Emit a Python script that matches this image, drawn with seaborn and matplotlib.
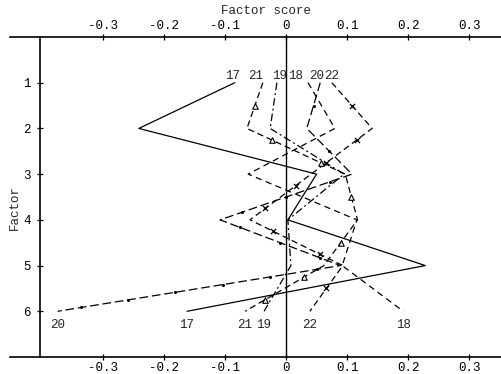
import numpy as np
import pandas as pd
import matplotlib
matplotlib.use("Agg")
import matplotlib.pyplot as plt
import seaborn as sns

# ------------------------------------------------
# DATA (factor scores)
# ------------------------------------------------

factors = [1, 2, 3, 4, 5, 6]

score_17 = [-0.084, -0.241, 0.050, 0.003, 0.228, -0.162]
score_18 = [0.036, 0.080, -0.062, 0.116, 0.092, 0.192]
score_19 = [-0.015, -0.026, 0.095, 0.003, 0.008, -0.036]
score_20 = [0.056, 0.034, 0.108, -0.108, 0.089, -0.374]
score_21 = [-0.038, -0.064, 0.097, 0.117, 0.062, -0.067]
score_22 = [0.075, 0.141, 0.041, -0.059, 0.093, 0.039]

series_names = ["17", "18", "19", "20", "21", "22"]
x_ticks = [-0.3, -0.2, -0.1, 0, 0.1, 0.2, 0.3]
x_tick_labels = ["-0.3", "-0.2", "-0.1", "0", "0.1", "0.2", "0.3"]

# label row above factor 1 (x positions of the printed numbers)
top_label_x = {"17": -0.087, "21": -0.049, "19": -0.010,
               "18": 0.015, "20": 0.050, "22": 0.074}

# ------------------------------------------------
# STYLE
# ------------------------------------------------

sns.set_style("white")
plt.rcParams["font.family"] = ["Liberation Mono", "DejaVu Sans Mono"]
plt.rcParams["font.size"] = 9

line_styles = {
    "17": "-",
    "18": (0, (5, 3.5)),
    "19": (0, (6, 2.5, 1.5, 2.5)),
    "20": (0, (7, 3)),
    "21": (0, (5, 3)),
    "22": (0, (5, 3)),
}

# symbols that the old plotter printed along some of the lines
symbol_styles = {
    "20": dict(marker="o", s=5, color="black", linewidth=0),
    "21": dict(marker="^", s=16, facecolor="white", edgecolor="black",
               linewidth=0.8),
    "22": dict(marker="x", s=14, color="black", linewidth=0.9),
}
SYMBOL_GAP_PX = 45

scores = {"17": score_17, "18": score_18, "19": score_19,
          "20": score_20, "21": score_21, "22": score_22}


def symbols_along(ax, xs, ys):
    # spread the symbols along each segment, about SYMBOL_GAP_PX apart
    pts = ax.transData.transform(np.column_stack([xs, ys]))
    out = []
    for a, b in zip(pts[:-1], pts[1:]):
        n = max(1, int(round(np.hypot(*(b - a)) / SYMBOL_GAP_PX)))
        for k in range(n):
            out.append(a + (b - a) * (k + 0.5) / n)
    return ax.transData.inverted().transform(np.array(out))


# ------------------------------------------------
# PLOT
# ------------------------------------------------

fig = plt.figure(figsize=(5.01, 3.74), dpi=100)
ax = fig.add_axes([10 / 501, 17 / 374, 491 / 501, 320 / 374])

ax.set_xlim(-0.452, 0.352)
ax.set_ylim(7.0, 0.0)

for name in series_names:
    df = pd.DataFrame({"score": scores[name], "factor": factors})
    sns.lineplot(data=df, x="score", y="factor", sort=False, estimator=None,
                 color="black", linewidth=0.9, linestyle=line_styles[name],
                 ax=ax)

    if name in symbol_styles:
        sym = symbols_along(ax, scores[name], factors)
        sns.scatterplot(x=sym[:, 0], y=sym[:, 1], ax=ax, zorder=3,
                        **symbol_styles[name])

    ax.text(scores[name][-1], 6.3, name, ha="center", va="center")
    ax.text(top_label_x[name], 0.85, name, ha="center", va="center")

ax.axvline(0, color="black", linewidth=1.0)

ax.set_xlim(-0.452, 0.352)
ax.set_ylim(7.0, 0.0)

ax.spines["right"].set_visible(False)
ax.spines["left"].set_position(("data", -0.403))
for side in ["top", "bottom", "left"]:
    ax.spines[side].set_linewidth(1.2)
    ax.spines[side].set_color("black")

ax.set_xticks(x_ticks)
ax.set_xticklabels(x_tick_labels)
ax.tick_params(axis="x", which="both", top=True, bottom=True,
               labeltop=True, labelbottom=True, direction="inout",
               length=5, width=0.9, pad=1, colors="black")

ax.set_yticks(factors)
ax.set_yticklabels([str(f) for f in factors])
ax.tick_params(axis="y", left=True, direction="inout", length=5,
               width=0.9, pad=4, colors="black")

ax.set_xlabel("")
ax.set_ylabel("")
ax.text(0.521, 1.081, "Factor score", transform=ax.transAxes,
        ha="center", va="center")
fig.text(15 / 501, 1 - 208 / 374, "Factor", rotation=90,
         ha="center", va="center")

fig.savefig("out.png", dpi=100)
